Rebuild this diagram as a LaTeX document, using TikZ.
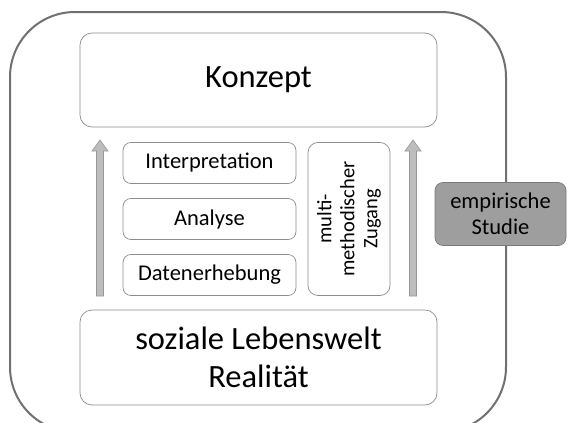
\documentclass[tikz,border=0pt]{standalone}
\usepackage{fontspec}
\setmainfont{Carlito}
\definecolor{boxline}{HTML}{8C8C8C}
\definecolor{outerline}{HTML}{707070}
\definecolor{empfill}{HTML}{9E9E9E}
\definecolor{empline}{HTML}{7A7A7A}
\definecolor{arrfill}{HTML}{BDBDBD}
\definecolor{arrline}{HTML}{979797}
\begin{document}
\begin{tikzpicture}[x=1pt,y=-1pt,
  bigbox/.style={draw=boxline,line width=0.7pt,rounded corners=12pt,minimum width=357pt,align=center,font=\fontsize{32.5}{38}\selectfont,inner sep=0pt},
  stepbox/.style={draw=boxline,line width=0.7pt,rounded corners=8pt,minimum width=173pt,minimum height=41pt,font=\fontsize{22.5}{26}\selectfont,inner sep=0pt},
  multibox/.style={draw=boxline,line width=0.7pt,rounded corners=10pt,minimum width=82pt,minimum height=153pt,inner sep=0pt},
  empbox/.style={draw=empline,fill=empfill,line width=0.7pt,rounded corners=8pt,minimum width=131pt,minimum height=63pt,align=center,font=\fontsize{22.5}{26}\selectfont,inner sep=0pt},
  uparrow/.style={draw=arrline,fill=arrfill,line width=0.6pt,line join=miter}]
\clip (0,0) rectangle (571,423);
\useasboundingbox (0,0) rectangle (571,423);
\draw[outerline,line width=2pt,rounded corners=65pt] (10,12) rectangle (506,432);
\node[bigbox,minimum height=94pt] (konzept) at (258.5,80) {Konzept};
\node[bigbox,minimum height=95pt] (sozial) at (258.5,357.5) {soziale Lebenswelt\\Realität};
\node[stepbox] (interp) at (209.5,163) {Interpretation};
\node[stepbox] (analyse) at (209.5,219) {Analyse};
\node[stepbox] (daten) at (209.5,275) {Datenerhebung};
\node[multibox] (multi) at (349,219) {};
\node[rotate=90,align=center,font=\fontsize{20.5}{23}\selectfont] (multitext) at (multi.center) {multi-\\methodischer\\Zugang};
\node[empbox] (emp) at (500.5,214) {empirische\\Studie};
\foreach \n/\x in {la/100, ra/413}{
  \coordinate (\n bot) at (\x,296);
  \coordinate (\n tip) at (\x,140);
  \draw[uparrow] ([xshift=-3.5pt]\n bot) -- ([xshift=-3.5pt,yshift=-11pt]\n tip)
     -- ([xshift=-8pt,yshift=-11pt]\n tip) -- (\n tip) -- ([xshift=8pt,yshift=-11pt]\n tip)
     -- ([xshift=3.5pt,yshift=-11pt]\n tip) -- ([xshift=3.5pt]\n bot) -- cycle;
}
\end{tikzpicture}
\end{document}
